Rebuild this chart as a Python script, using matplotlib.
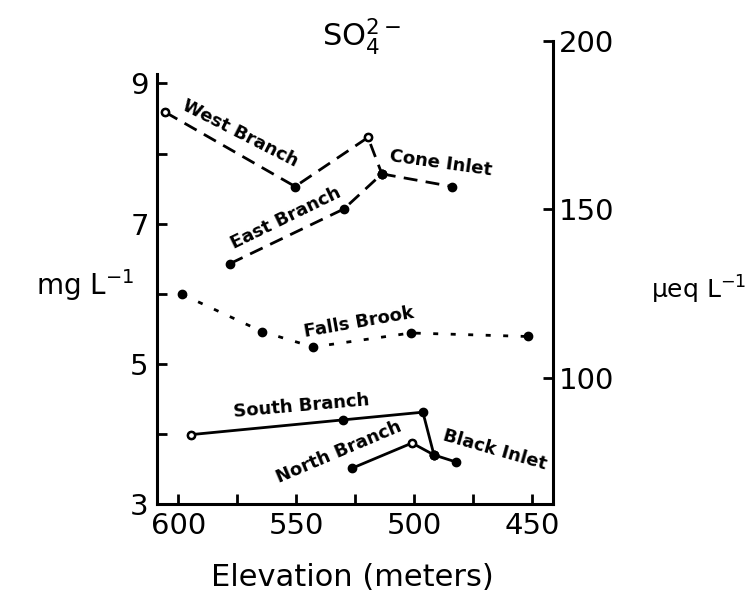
import matplotlib
matplotlib.use('Agg')
import matplotlib.pyplot as plt
from matplotlib.ticker import FixedLocator

# sulfate (mg/L) against elevation (m) for each stream segment
west_elev = [605.5, 550.4, 519.5, 513.6]
west_so4 = [8.59, 7.53, 8.23, 7.71]
east_elev = [578.0, 529.7, 513.6]
east_so4 = [6.43, 7.21, 7.71]
cone_elev = [513.6, 483.9]
cone_so4 = [7.71, 7.53]
falls_elev = [598.3, 564.4, 542.8, 501.3, 451.7]
falls_so4 = [5.99, 5.46, 5.24, 5.44, 5.39]
south_elev = [594.5, 530.1, 496.2, 491.5]
south_so4 = [3.99, 4.20, 4.31, 3.70]
north_elev = [526.3, 500.8, 491.5]
north_so4 = [3.51, 3.87, 3.70]
black_elev = [491.5, 482.2]
black_so4 = [3.70, 3.60]

# points drawn as open circles
open_elev = [605.5, 519.5, 594.5, 500.8]
open_so4 = [8.59, 8.23, 3.99, 3.87]

MG_TO_UEQ = 1000 / 48.03

fig = plt.figure(figsize=(7.52, 5.99), dpi=100)
ax = fig.add_axes([157/752, 1 - 504/599, (553-157)/752, (504-41)/599])

ax.set_xlim(609, 441)
ax.set_ylim(3, 200 / MG_TO_UEQ)

lw = 2.0
dash = (0, (5, 3))
dot = (0, (1.8, 4.5))
ms = 6

def seg(x, y, ls):
    ax.plot(x, y, color='black', lw=lw, ls=ls, marker='o', ms=ms,
            mfc='black', mec='black', zorder=2)

seg(west_elev, west_so4, dash)
seg(east_elev, east_so4, dash)
seg(cone_elev, cone_so4, dash)
seg(falls_elev, falls_so4, dot)
seg(south_elev, south_so4, '-')
seg(north_elev, north_so4, '-')
seg(black_elev, black_so4, '-')
ax.plot(open_elev, open_so4, ls='none', marker='o', ms=5, mfc='white',
        mec='black', mew=1.6, zorder=3)

lab = dict(fontsize=13, fontweight='bold', ha='center', va='center')
ax.text(573.7, 8.29, 'West Branch', rotation=-27, **lab)
ax.text(488.7, 7.86, 'Cone Inlet', rotation=-8, **lab)
ax.text(554.5, 7.08, 'East Branch', rotation=26, **lab)
ax.text(523.5, 5.59, 'Falls Brook', rotation=10, **lab)
ax.text(547.7, 4.40, 'South Branch', rotation=5, **lab)
ax.text(532.0, 3.74, 'North Branch', rotation=23, **lab)
ax.text(465.7, 3.77, 'Black Inlet', rotation=-16, **lab)

# spines
ax.spines['top'].set_visible(False)
for s in ('left', 'right', 'bottom'):
    ax.spines[s].set_linewidth(2.2)
ax.spines['left'].set_bounds(3, 9.14)

ax.xaxis.set_major_locator(FixedLocator([600, 550, 500, 450]))
ax.xaxis.set_minor_locator(FixedLocator([575, 525, 475]))
ax.yaxis.set_major_locator(FixedLocator([3, 5, 7, 9]))
ax.yaxis.set_minor_locator(FixedLocator([4, 6, 8]))
ax.tick_params(which='both', direction='in', length=7, width=2,
               labelsize=21, pad=6)
ax.tick_params(axis='y', which='both', right=False)

ax2 = ax.twinx()
ax2.set_ylim(3 * MG_TO_UEQ, 200)
for s in ax2.spines.values():
    s.set_visible(False)
ax2.yaxis.set_major_locator(FixedLocator([100, 150, 200]))
ax2.tick_params(direction='in', length=7, width=2, labelsize=21, pad=4)

fig.text(85/752, 1 - 285/599, r'mg L$^{\mathregular{-1}}$', fontsize=20,
         ha='center', va='center')
fig.text(746/752, 1 - 290/599, r'$\mathregular{\mu}$eq L$^{\mathregular{-1}}$',
         fontsize=18, ha='right', va='center')
fig.text(352/752, 1 - 578/599, 'Elevation (meters)', fontsize=22,
         ha='center', va='center')
fig.text(362/752, 1 - 37/599, r'SO$_{\mathregular{4}}^{\mathregular{2-}}$',
         fontsize=22, ha='center', va='center')

fig.savefig('out.png', dpi=100)
